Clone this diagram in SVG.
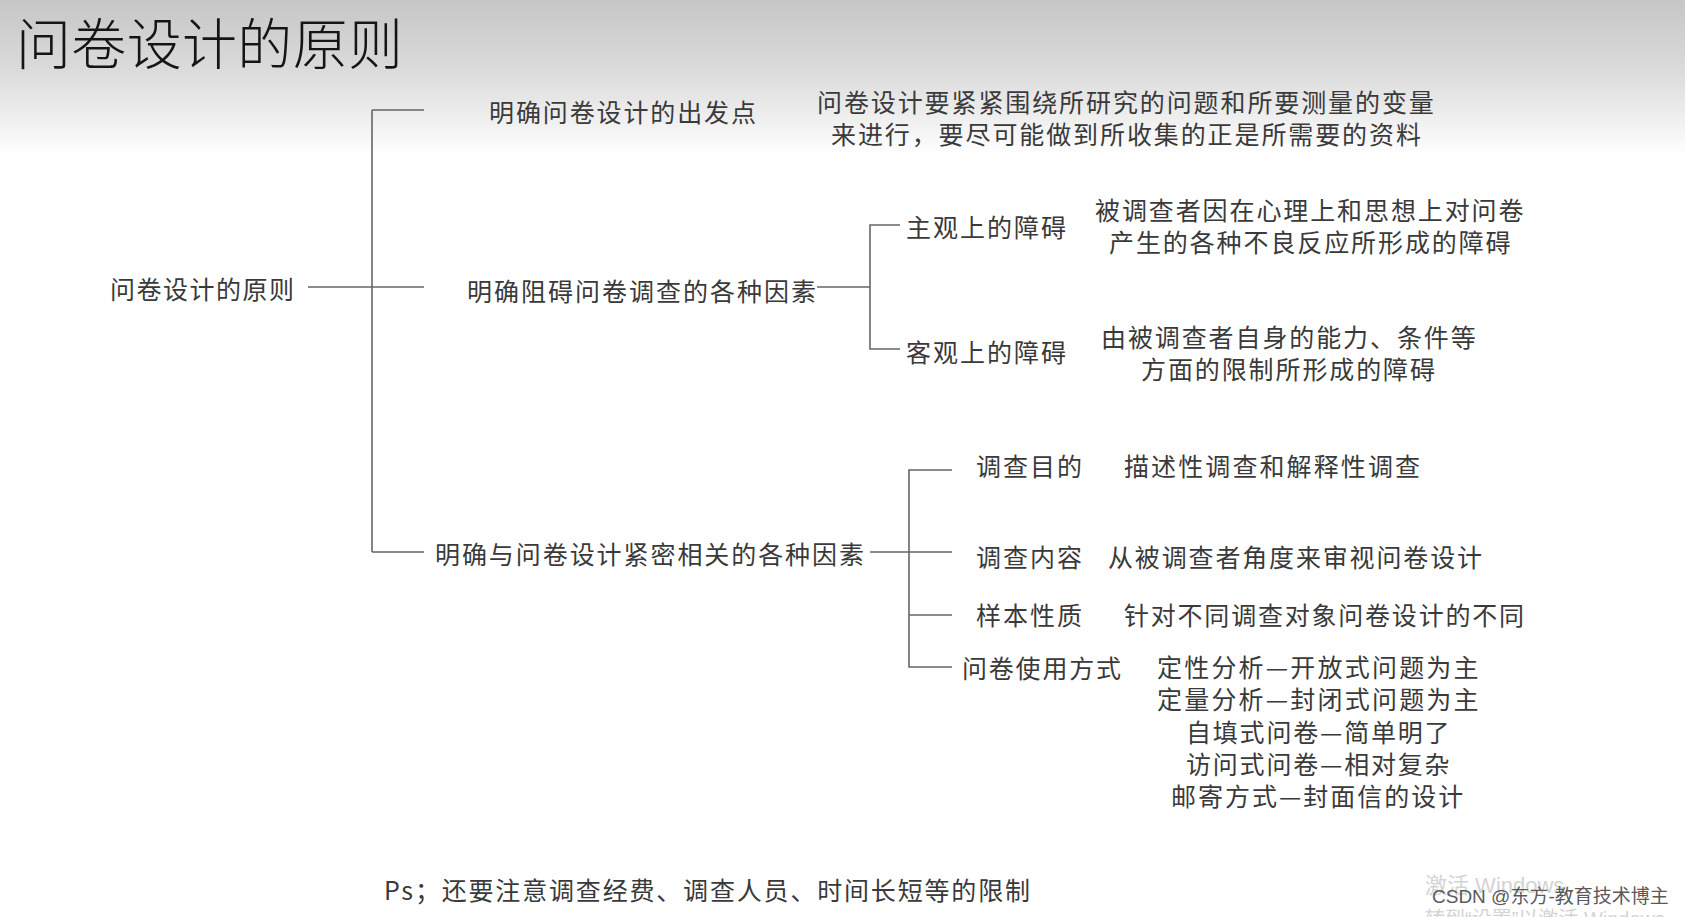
<svg xmlns="http://www.w3.org/2000/svg" width="1685" height="917" viewBox="0 0 1685 917">
<defs>
<linearGradient id="bg" x1="0" y1="0" x2="0" y2="917" gradientUnits="userSpaceOnUse">
<stop offset="0" stop-color="#c6c6c6"/>
<stop offset="0.08" stop-color="#dcdcdc"/>
<stop offset="0.17" stop-color="#ffffff"/>
</linearGradient>
<style>
text{font-family:"Noto Sans CJK SC","Liberation Sans",sans-serif;dominant-baseline:central;fill:#3a3a3a;font-size:25px}
.t{font-size:55px;fill:#151515;font-weight:300}
.d{letter-spacing:1.9px}
.wm{font-family:"Liberation Sans","Noto Sans CJK SC",sans-serif;font-size:19px;fill:#5a5a5a}
.win{font-family:"Liberation Sans","Noto Sans CJK SC",sans-serif;font-size:22px;fill:#d4d4d4}
.ln{fill:none;stroke:#666;stroke-width:1.6}
</style>
</defs>
<rect width="1685" height="917" fill="url(#bg)"/>
<g id="title"><text class="t" x="16" y="40" textLength="387">问卷设计的原则</text></g>
<g id="connectors">
<path class="ln" d="M372,110 V552"/>
<path class="ln" d="M372,110 H424"/>
<path class="ln" d="M308,287 H424"/>
<path class="ln" d="M372,552 H424"/>
<path class="ln" d="M817,287 H870"/>
<path class="ln" d="M900,225 H870 V349 H900"/>
<path class="ln" d="M870,552 H952"/>
<path class="ln" d="M952,470 H909 V667 H952"/>
<path class="ln" d="M909,615 H952"/>
</g>
<g id="root"><text x="110" y="288" textLength="184">问卷设计的原则</text></g>
<g id="n1"><text x="489" y="111" textLength="267">明确问卷设计的出发点</text></g>
<g id="d1"><text class="d"><tspan x="817" y="101">问卷设计要紧紧围绕所研究的问题和所要测量的变量</tspan><tspan x="831" y="133">来进行，要尽可能做到所收集的正是所需要的资料</tspan></text></g>
<g id="n2"><text x="467" y="290" textLength="349">明确阻碍问卷调查的各种因素</text></g>
<g id="n2a"><text x="906" y="226" textLength="160">主观上的障碍</text></g>
<g id="d2a"><text class="d"><tspan x="1095" y="209">被调查者因在心理上和思想上对问卷</tspan><tspan x="1109" y="241">产生的各种不良反应所形成的障碍</tspan></text></g>
<g id="n2b"><text x="906" y="351" textLength="160">客观上的障碍</text></g>
<g id="d2b"><text class="d"><tspan x="1101" y="336">由被调查者自身的能力、条件等</tspan><tspan x="1141" y="368">方面的限制所形成的障碍</tspan></text></g>
<g id="n3"><text x="435" y="553" textLength="429">明确与问卷设计紧密相关的各种因素</text></g>
<g id="n3a"><text x="976" y="465" textLength="106">调查目的</text><text x="1124" y="465" textLength="296">描述性调查和解释性调查</text></g>
<g id="n3b"><text x="976" y="556" textLength="106">调查内容</text><text x="1108" y="556" textLength="374">从被调查者角度来审视问卷设计</text></g>
<g id="n3c"><text x="976" y="614" textLength="106">样本性质</text><text x="1124" y="614" textLength="400">针对不同调查对象问卷设计的不同</text></g>
<g id="n3d"><text x="962" y="667" textLength="159">问卷使用方式</text>
<text><tspan x="1157" y="666" style="letter-spacing:2.2px">定性分析—开放式问题为主</tspan><tspan x="1157" y="698" style="letter-spacing:2.2px">定量分析—封闭式问题为主</tspan><tspan x="1186" y="731" style="letter-spacing:1.8px">自填式问卷—简单明了</tspan><tspan x="1186" y="763" style="letter-spacing:1.8px">访问式问卷—相对复杂</tspan><tspan x="1171" y="795" style="letter-spacing:2px">邮寄方式—封面信的设计</tspan></text></g>
<g id="ps"><text x="384" y="889" textLength="646">Ps；还要注意调查经费、调查人员、时间长短等的限制</text></g>
<g id="watermark">
<text><tspan class="win" x="1425" y="885">激活 Windows</tspan><tspan class="wm" x="1432" y="896">CSDN @东方-教育技术博主</tspan><tspan class="win" x="1425" y="919" style="font-size:20px">转到“设置”以激活 Windows</tspan></text>
</g>
</svg>
